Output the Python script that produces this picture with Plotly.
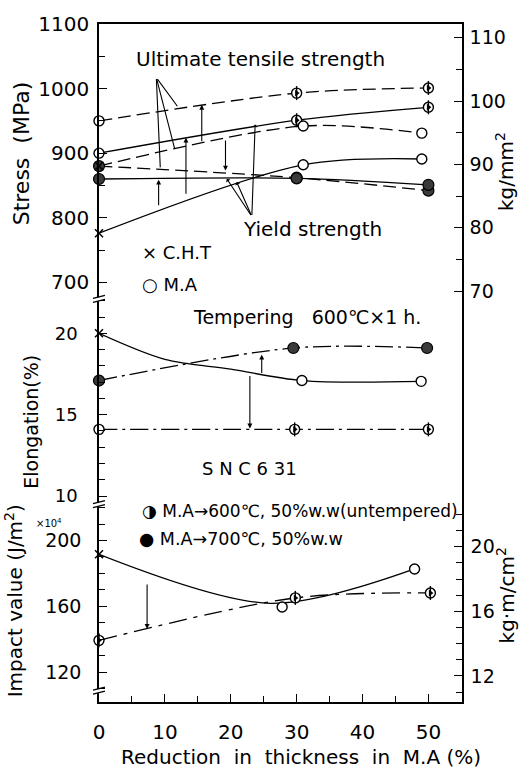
import plotly.graph_objects as go

# ---------------- data ----------------
# Stress section, MPa
s600_x = [0, 30, 50]
s600_uts = [950, 993, 1001]      # dashed, M.A->600C 50% w.w
s600_ys = [900, 951, 971]        # solid
sma_x = [0, 31, 49]
sma_uts = [880, 942, 931]        # dashed, M.A
sma_ys = [776, 882, 891]         # solid, from C.H.T
s700_x = [0, 30, 50]
s700_uts = [880, 862, 842]       # dashed, M.A->700C
s700_ys = [860, 861, 851]        # solid

# Elongation, %
e700_x = [0, 29.5, 49.8]
e700 = [17.1, 19.1, 19.1]
ema_x = [0, 10, 20, 30.8, 48.9]
ema = [20.0, 18.4, 17.8, 17.1, 17.05]
ema_mark_x = [30.8, 48.9]
ema_mark = [17.1, 17.05]
e600_x = [0, 29.7, 50]
e600 = [14.1, 14.1, 14.1]

# Impact value, x10^4 J/m2
i600_x = [0, 29.8, 50.3]
i600 = [139.3, 165.1, 168.1]
ima_x = [0, 26.0, 47.9]
ima = [191.6, 161.8, 182.7]
ima_mark_x = [0, 27.8, 47.9]
ima_mark = [191.6, 159.6, 182.7]

# arrows: (x, from, to)
stress_arrows = [(15.6, 916, 975), (13.2, 835, 924), (9.05, 817, 859), (19.2, 922, 873)]
elong_arrows = [(24.7, 17.47, 18.69), (22.9, 17.47, 14.15)]
impact_arrows = [(7.3, 174.1, 146.3)]
uts_apex = (8.7, 1017)
uts_ends = [(11.9, 972.6), (11.5, 906.3), (9.3, 878)]
ys_apex = (23.2, 802)
ys_ends = [(19.4, 860.4), (20.9, 855.4), (23.7, 944.5)]

MPA_PER_KGMM2 = 9.807

F = "DejaVu Sans"
K = "black"
NB = "\u00a0"

fig = go.Figure()

DASH = "13px,6px"
DASHDOT = "18px,5px,3px,5px"
IDASH = "18px,7px,4px,7px"


def line(x, y, dash, xa, ya, w=1.3):
    fig.add_trace(go.Scatter(x=x, y=y, mode="lines", xaxis=xa, yaxis=ya,
                             line=dict(color=K, width=w, dash=dash, shape="spline", smoothing=0.9),
                             showlegend=False, hoverinfo="skip"))


def opencirc(x, y, xa, ya):
    fig.add_trace(go.Scatter(x=x, y=y, mode="markers", xaxis=xa, yaxis=ya, cliponaxis=False,
                             marker=dict(symbol="circle", size=10, color="white", line=dict(width=1.4, color=K)),
                             showlegend=False, hoverinfo="skip"))


def halfcirc(x, y, xa, ya):
    fig.add_trace(go.Scatter(x=x, y=y, mode="markers", xaxis=xa, yaxis=ya, cliponaxis=False,
                             marker=dict(symbol="circle", size=10, color="white", line=dict(width=1.4, color=K)),
                             showlegend=False, hoverinfo="skip"))
    fig.add_trace(go.Scatter(x=x, y=y, mode="markers", xaxis=xa, yaxis=ya, cliponaxis=False,
                             marker=dict(symbol="triangle-right", size=6, color=K, line=dict(width=0)),
                             showlegend=False, hoverinfo="skip"))
    fig.add_trace(go.Scatter(x=x, y=y, mode="markers", xaxis=xa, yaxis=ya, cliponaxis=False,
                             marker=dict(symbol="line-ns-open", size=10, color=K, line=dict(width=1.4, color=K)),
                             showlegend=False, hoverinfo="skip"))


def darkcirc(x, y, xa, ya):
    fig.add_trace(go.Scatter(x=x, y=y, mode="markers", xaxis=xa, yaxis=ya, cliponaxis=False,
                             marker=dict(symbol="circle", size=11, color="#3a3a3a", line=dict(width=1.2, color=K)),
                             showlegend=False, hoverinfo="skip"))


def cross(x, y, xa, ya):
    fig.add_trace(go.Scatter(x=x, y=y, mode="markers", xaxis=xa, yaxis=ya, cliponaxis=False,
                             marker=dict(symbol="x-thin-open", size=8, color=K, line=dict(width=1.5, color=K)),
                             showlegend=False, hoverinfo="skip"))


# ---- stress ----
line(s600_x, s600_uts, DASH, "x", "y")
line(s600_x, s600_ys, "solid", "x", "y")
line(sma_x, sma_uts, DASH, "x", "y")
line(sma_x, sma_ys, "solid", "x", "y")
line(s700_x, s700_uts, DASH, "x", "y")
line(s700_x, s700_ys, "solid", "x", "y")
opencirc(s600_x[:1] + s600_x[:1], s600_uts[:1] + s600_ys[:1], "x", "y")
halfcirc(s600_x[1:] + s600_x[1:], s600_uts[1:] + s600_ys[1:], "x", "y")
opencirc(sma_x[1:] + sma_x[1:], sma_uts[1:] + sma_ys[1:], "x", "y")
darkcirc(s700_x + s700_x, s700_uts + s700_ys, "x", "y")
cross(sma_x[:1] + sma_x[:1], sma_uts[:1] + sma_ys[:1], "x", "y")
# same stresses in kg/mm2 on the right-hand axis (invisible, carries the axis)
fig.add_trace(go.Scatter(x=s600_x, y=[v / MPA_PER_KGMM2 for v in s600_uts], xaxis="x", yaxis="y4",
                         mode="lines", opacity=0, line=dict(width=0), showlegend=False, hoverinfo="skip"))

# ---- elongation ----
line(e700_x, e700, DASHDOT, "x2", "y2")
line(ema_x, ema, "solid", "x2", "y2")
line(e600_x, e600, DASHDOT, "x2", "y2")
darkcirc(e700_x, e700, "x2", "y2")
cross(ema_x[:1], ema[:1], "x2", "y2")
opencirc(ema_mark_x, ema_mark, "x2", "y2")
opencirc(e600_x[:1], e600[:1], "x2", "y2")
halfcirc(e600_x[1:], e600[1:], "x2", "y2")

# ---- impact ----
line(i600_x, i600, IDASH, "x3", "y3")
line(ima_x, ima, "solid", "x3", "y3")
halfcirc(i600_x, i600, "x3", "y3")
cross(ima_mark_x[:1], ima_mark[:1], "x3", "y3")
opencirc(ima_mark_x[1:], ima_mark[1:], "x3", "y3")
fig.add_trace(go.Scatter(x=i600_x, y=[v / MPA_PER_KGMM2 for v in i600], xaxis="x3", yaxis="y5",
                         mode="lines", opacity=0, line=dict(width=0), showlegend=False, hoverinfo="skip"))

# ---------------- layout ----------------
D_S = 0.598
D_I = 0.294
S_RANGE = [678, 1100]
E_RANGE = [9.594, 22.26]
I_RANGE = [101.83, 222.97]
X_RANGE = [0, 55.1]

common_y = dict(showgrid=False, zeroline=False, showline=True, linecolor=K, linewidth=1.5,
                ticks="inside", ticklen=8, tickwidth=1.3, tickcolor=K,
                tickfont=dict(family=F, size=19, color=K))

fig.update_layout(
    width=520, height=769,
    margin=dict(l=99, r=58, t=15, b=67),
    paper_bgcolor="white", plot_bgcolor="white",
    showlegend=False,
    xaxis=dict(domain=[0, 1], anchor="y", side="top", range=X_RANGE, showline=True, linecolor=K,
               linewidth=1.5, ticks="", showticklabels=False, showgrid=False, zeroline=False),
    xaxis2=dict(domain=[0, 1], anchor="y2", range=X_RANGE, showline=False, ticks="",
                showticklabels=False, showgrid=False, zeroline=False),
    xaxis3=dict(domain=[0, 1], anchor="y3", range=X_RANGE, showline=True, linecolor=K, linewidth=1.5,
                ticks="inside", ticklen=8, tickwidth=1.3, tickcolor=K, tick0=0, dtick=10,
                minor=dict(dtick=5, ticks="inside", ticklen=6, tickwidth=1.2, tickcolor=K),
                showgrid=False, zeroline=False, ticklabelstandoff=11,
                tickfont=dict(family=F, size=20, color=K)),
    yaxis=dict(domain=[D_S, 1], anchor="x", range=S_RANGE, tick0=0, dtick=100,
               minor=dict(dtick=50, ticks="inside", ticklen=6, tickwidth=1.2, tickcolor=K),
               ticklabelstandoff=4, **{**common_y, "tickfont": dict(family=F, size=20, color=K)}),
    yaxis2=dict(domain=[D_I, D_S], anchor="x2", range=E_RANGE, tick0=0, dtick=5, mirror=True,
                minor=dict(dtick=1, ticks="inside", ticklen=6, tickwidth=1.2, tickcolor=K),
                ticklabelstandoff=16, **{**common_y, "tickfont": dict(family=F, size=18, color=K)}),
    yaxis3=dict(domain=[0, D_I], anchor="x3", range=I_RANGE, tick0=0, dtick=40,
                minor=dict(dtick=10, ticks="inside", ticklen=6, tickwidth=1.2, tickcolor=K),
                ticklabelstandoff=12, **common_y),
    yaxis4=dict(domain=[D_S, 1], anchor="x", overlaying="y", side="right",
                range=[S_RANGE[0] / MPA_PER_KGMM2, S_RANGE[1] / MPA_PER_KGMM2], tick0=0, dtick=10,
                minor=dict(dtick=5, ticks="inside", ticklen=6, tickwidth=1.2, tickcolor=K),
                ticklabelstandoff=2, **common_y),
    yaxis5=dict(domain=[0, D_I], anchor="x3", overlaying="y3", side="right",
                range=[I_RANGE[0] / MPA_PER_KGMM2, I_RANGE[1] / MPA_PER_KGMM2], tick0=0, dtick=4,
                minor=dict(dtick=1, ticks="inside", ticklen=6, tickwidth=1.2, tickcolor=K),
                ticklabelstandoff=3, **common_y),
)

ann = []


def txt(text, px, py, size, xanchor="center", angle=0):
    ann.append(dict(text=text, x=(px - 99) / 363, y=(702 - py) / 687, xref="paper", yref="paper",
                    showarrow=False, xanchor=xanchor, yanchor="middle", textangle=angle,
                    font=dict(family=F, size=size, color=K)))


def arrow(x, y0, y1, xa, ya, head=2):
    ann.append(dict(text="", x=x, y=y1, ax=x, ay=y0, xref=xa, yref=ya, axref=xa, ayref=ya,
                    showarrow=True, arrowhead=head, arrowsize=0.9, arrowwidth=1.1, arrowcolor=K,
                    standoff=0, startstandoff=0))


for a in stress_arrows:
    arrow(a[0], a[1], a[2], "x", "y")
for a in elong_arrows:
    arrow(a[0], a[1], a[2], "x2", "y2")
for a in impact_arrows:
    arrow(a[0], a[1], a[2], "x3", "y3")
for e in uts_ends:
    ann.append(dict(text="", x=e[0], y=e[1], ax=uts_apex[0], ay=uts_apex[1], xref="x", yref="y",
                    axref="x", ayref="y", showarrow=True, arrowhead=0, arrowwidth=1.1, arrowcolor=K))
for e in ys_ends:
    ann.append(dict(text="", x=e[0], y=e[1], ax=ys_apex[0], ay=ys_apex[1], xref="x", yref="y",
                    axref="x", ayref="y", showarrow=True, arrowhead=1, arrowsize=0.8, arrowwidth=1.1,
                    arrowcolor=K))

txt("Ultimate tensile strength", 260.5, 50, 20)
txt("Yield strength", 312, 223, 20)
txt("× C.H.T", 140, 246.7, 18, "left")
txt("○ M.A", 140, 279.3, 18, "left")
txt("Tempering" + NB * 3 + "600℃×1 h.", 191, 311.7, 19, "left")
txt("S N C 6 31", 200, 465, 18, "left")
txt("◑ M.A→600℃, 50%w.w(untempered)", 140, 508.3, 17, "left")
txt("● M.A→700℃, 50%w.w", 137, 537.3, 17.5, "left")
txt("×10<sup>4</sup>", 49, 521, 10)
txt("Stress" + NB * 2 + "(MPa)", 21, 146, 22, angle=-90)
txt("Elongation(%)", 31, 418, 19, angle=-90)
txt("Impact" + NB + "value" + NB + "(J/m<sup>2</sup>)", 14, 600, 20, angle=-90)
txt("kg/mm<sup>2</sup>", 505, 165, 20, angle=-90)
txt("kg·m/cm<sup>2</sup>", 506, 594, 20, angle=-90)
txt("Reduction" + NB * 2 + "in" + NB * 2 + "thickness" + NB * 2 + "in" + NB * 2 + "M.A" + NB + "(%)",
    301, 758, 20)

fig.update_layout(annotations=ann)

# axis-break marks on the left axis
shapes = []
for yb in [(702 - 293) / 687, (702 - 501) / 687, (702 - 690) / 687]:
    shapes.append(dict(type="rect", xref="paper", yref="paper", xsizemode="pixel", ysizemode="pixel",
                       xanchor=0, yanchor=yb, x0=-2, x1=2, y0=-3, y1=1, fillcolor="white",
                       line=dict(width=0)))
    shapes.append(dict(type="line", xref="paper", yref="paper", xsizemode="pixel", ysizemode="pixel",
                       xanchor=0, yanchor=yb, x0=-6, x1=6, y0=0, y1=3, line=dict(color=K, width=1.3)))
    shapes.append(dict(type="line", xref="paper", yref="paper", xsizemode="pixel", ysizemode="pixel",
                       xanchor=0, yanchor=yb, x0=-6, x1=6, y0=-4, y1=-1, line=dict(color=K, width=1.3)))
fig.update_layout(shapes=shapes)

fig.write_html("out.html")
